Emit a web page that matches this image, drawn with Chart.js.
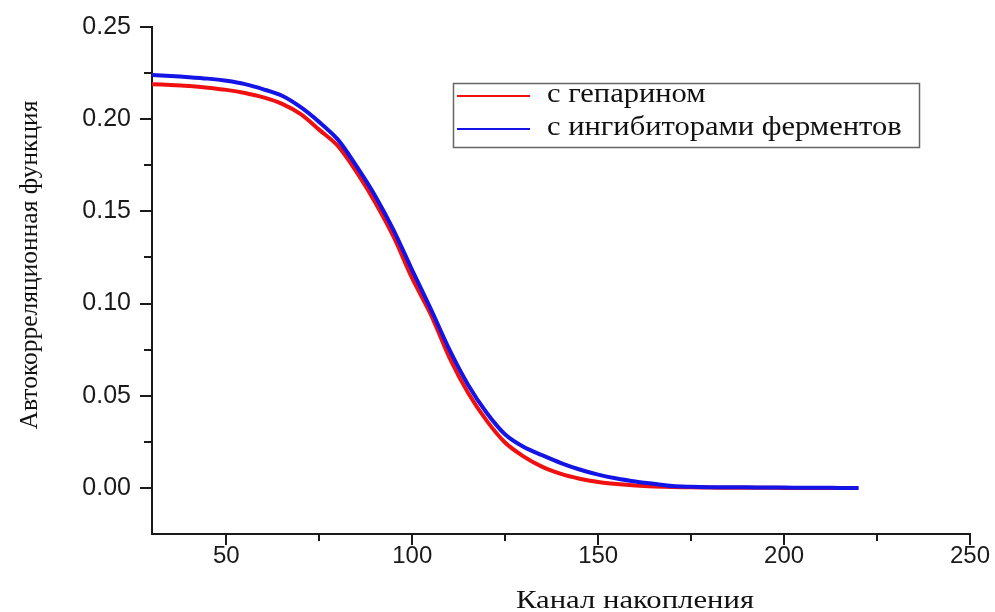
<!DOCTYPE html>
<html>
<head>
<meta charset="utf-8">
<script src="https://cdn.jsdelivr.net/npm/chart.js@4/dist/chart.umd.min.js"></script>
<style>
  html, body { margin: 0; padding: 0; background: #fff; }
  #wrap { width: 995px; height: 612px; position: relative; }
</style>
</head>
<body>
<div id="wrap"><canvas id="acf"></canvas></div>
<script>
// канал накопления
var channels = [30, 35, 40, 45, 50, 55, 60, 65, 70, 75, 80, 85, 90, 95, 100, 105, 110, 115, 120,
  125, 130, 135, 140, 145, 150, 155, 160, 165, 170, 175, 180, 185, 190, 195, 200, 205, 210, 215, 220];

// с гепарином
var heparin = [0.2190, 0.2186, 0.2180, 0.2171, 0.2159, 0.2142, 0.2118, 0.2083, 0.2027, 0.1942,
  0.1855, 0.1714, 0.1550, 0.1361, 0.1136, 0.0940, 0.0707, 0.0516, 0.0365,
  0.0245, 0.0170, 0.0114, 0.0076, 0.0050, 0.0032, 0.0021, 0.0013, 0.0008, 0.0005, 0.0003,
  0.0002, 0.0001, 0.0001, 0.0001, 0.0000, 0.0000, 0.0000, 0.0000, 0.0000];

// с ингибиторами ферментов
var inhibitors = [0.2239, 0.2234, 0.2228, 0.2220, 0.2208, 0.2190, 0.2162, 0.2127, 0.2065, 0.1984,
  0.1889, 0.1745, 0.1585, 0.1397, 0.1180, 0.0970, 0.0750, 0.0560, 0.0408,
  0.0290, 0.0222, 0.0177, 0.0135, 0.0100, 0.0072, 0.0051, 0.0035, 0.0022, 0.0010, 0.0006,
  0.0004, 0.0003, 0.0003, 0.0002, 0.0002, 0.0001, 0.0001, 0.0000, 0.0000];

var seriesNames = ["с гепарином", "с ингибиторами ферментов"];
var seriesColors = ["#f01010", "#1414e6"];

var xMajor = [50, 100, 150, 200, 250];
var xMinor = [75, 125, 175, 225];
var yMajor = [0, 0.05, 0.10, 0.15, 0.20, 0.25];
var yMinor = [0.025, 0.075, 0.125, 0.175, 0.225];

var xTitle = "Канал накопления";
var yTitle = "Автокорреляционная функция";

var sansFont = "'Liberation Sans', Arial, sans-serif";
var serifFont = "'Liberation Serif', 'Times New Roman', serif";
var ink = "#1a1a1a";

function toPoints(xs, ys) {
  var pts = [];
  for (var i = 0; i < xs.length; i++) {
    pts.push({ x: xs[i], y: ys[i] });
  }
  return pts;
}

// the source picture is a bit wider than tall, so horizontal text is stretched
function wideText(ctx, text, x, y, sx) {
  ctx.save();
  ctx.translate(x, y);
  ctx.scale(sx, 1);
  ctx.fillText(text, 0, 0);
  ctx.restore();
}

// tick marks, axis titles and the boxed legend
var decorations = {
  id: "decorations",
  afterDraw: function (chart) {
    var ctx = chart.ctx;
    var area = chart.chartArea;
    var xs = chart.scales.x;
    var ys = chart.scales.y;
    ctx.save();
    ctx.strokeStyle = ink;
    ctx.lineWidth = 2;
    ctx.beginPath();
    xMajor.forEach(function (v) {
      var px = Math.round(xs.getPixelForValue(v));
      ctx.moveTo(px, area.bottom);
      ctx.lineTo(px, area.bottom + 11);
    });
    xMinor.forEach(function (v) {
      var px = Math.round(xs.getPixelForValue(v));
      ctx.moveTo(px, area.bottom);
      ctx.lineTo(px, area.bottom + 7);
    });
    yMajor.forEach(function (v) {
      var py = Math.round(ys.getPixelForValue(v));
      ctx.moveTo(area.left, py);
      ctx.lineTo(area.left - 12, py);
    });
    yMinor.forEach(function (v) {
      var py = Math.round(ys.getPixelForValue(v));
      ctx.moveTo(area.left, py);
      ctx.lineTo(area.left - 8, py);
    });
    ctx.stroke();

    // axis titles
    ctx.fillStyle = "#111";
    ctx.font = "26px " + serifFont;
    ctx.textAlign = "center";
    ctx.textBaseline = "middle";
    wideText(ctx, xTitle, 635, 601, 1.18);
    ctx.translate(30, 265);
    ctx.rotate(-Math.PI / 2);
    ctx.font = "25.5px " + serifFont;
    ctx.fillText(yTitle, 0, 0);
    ctx.restore();

    // legend
    ctx.save();
    ctx.strokeStyle = "#666";
    ctx.lineWidth = 1.5;
    ctx.strokeRect(453.5, 83.5, 466, 64);
    ctx.font = "27px " + serifFont;
    ctx.textAlign = "left";
    ctx.textBaseline = "middle";
    chart.data.datasets.forEach(function (ds, i) {
      var y = 96 + i * 33;
      ctx.strokeStyle = ds.borderColor;
      ctx.lineWidth = 2;
      ctx.beginPath();
      ctx.moveTo(457, y);
      ctx.lineTo(530, y);
      ctx.stroke();
      ctx.fillStyle = "#111";
      wideText(ctx, ds.label, 547, y - 1, 1.13);
    });
    ctx.restore();
  },
};

new Chart(document.getElementById("acf"), {
  type: "line",
  data: {
    datasets: [
      {
        label: seriesNames[0],
        data: toPoints(channels, heparin),
        borderColor: seriesColors[0],
        borderWidth: 4,
        pointRadius: 0,
        tension: 0.3,
        fill: false,
        order: 1,
      },
      {
        label: seriesNames[1],
        data: toPoints(channels, inhibitors),
        borderColor: seriesColors[1],
        borderWidth: 4,
        pointRadius: 0,
        tension: 0.3,
        fill: false,
        order: 0,
      },
    ],
  },
  options: {
    responsive: true,
    maintainAspectRatio: false,
    animation: false,
    layout: { padding: { top: 27, right: 25, left: 0, bottom: 0 } },
    plugins: {
      legend: { display: false },
      tooltip: { enabled: false },
    },
    scales: {
      x: {
        type: "linear",
        min: 30,
        max: 250,
        afterBuildTicks: function (scale) {
          scale.ticks = xMajor.map(function (v) { return { value: v }; });
        },
        afterFit: function (scale) {
          scale.height = 78;
        },
        grid: { display: false, drawTicks: true, tickLength: 8 },
        border: { display: true, color: ink, width: 2 },
        ticks: {
          color: ink,
          padding: 0,
          maxRotation: 0,
          font: { family: sansFont, size: 24 },
        },
      },
      y: {
        type: "linear",
        min: -0.025,
        max: 0.25,
        afterBuildTicks: function (scale) {
          scale.ticks = yMajor.map(function (v) { return { value: v }; });
        },
        afterFit: function (scale) {
          scale.width = 152;
        },
        grid: { display: false, drawTicks: true, tickLength: 12 },
        border: { display: true, color: ink, width: 2 },
        ticks: {
          color: ink,
          padding: 9,
          font: { family: sansFont, size: 25 },
          callback: function (v) { return Number(v).toFixed(2); },
        },
      },
    },
  },
  plugins: [decorations],
});
</script>
</body>
</html>
